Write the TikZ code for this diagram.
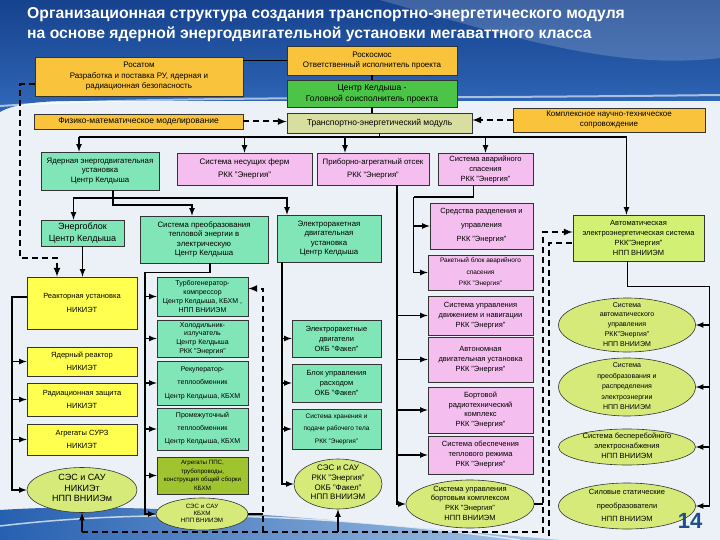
\documentclass[tikz,border=0pt]{standalone}
\usepackage{fontspec}
\setmainfont{Liberation Sans}
\usetikzlibrary{shapes.geometric}
\definecolor{cbg}{RGB}{236,241,248}
\definecolor{chead1}{RGB}{22,66,142}
\definecolor{chead2}{RGB}{48,104,184}
\definecolor{cbot1}{RGB}{38,96,176}
\definecolor{cbot2}{RGB}{170,200,232}
\definecolor{cgold}{RGB}{249,196,60}
\definecolor{cgreen}{RGB}{76,196,72}
\definecolor{ckhaki}{RGB}{216,222,160}
\definecolor{cmint}{RGB}{128,230,184}
\definecolor{cpink}{RGB}{244,190,238}
\definecolor{cyellow}{RGB}{255,255,80}
\definecolor{colive}{RGB}{160,196,48}
\definecolor{clime}{RGB}{214,234,122}
\definecolor{caes}{RGB}{210,240,116}
\definecolor{cnum}{RGB}{31,78,140}
\newcommand*{\ovtxt}[1]{\smash{\makebox[0pt]{\raisebox{-1.5pt}{\begin{tabular}{@{}c@{}}#1\end{tabular}}}}}

\begin{document}
\begin{tikzpicture}[x=1pt, y=-1pt]
    \tikzset{
        box/.style={draw=black!80, line width=0.6pt, align=center, inner sep=1pt, font=\fontsize{7.5}{9.5}\selectfont},
        sz/.style 2 args={minimum width=#1, minimum height=#2},
        fs/.style 2 args={font=\fontsize{#1}{#2}\selectfont},
        goldbox/.style={box, fill=cgold},
        greenbox/.style={box, fill=cgreen},
        khakibox/.style={box, fill=ckhaki},
        mintbox/.style={box, fill=cmint},
        pinkbox/.style={box, fill=cpink},
        yellowbox/.style={box, fill=cyellow},
        olivebox/.style={box, fill=colive},
        aesbox/.style={box, fill=caes},
        ell/.style={ellipse, draw=black!80, line width=0.6pt, fill=clime, inner sep=0pt, font=\fontsize{7.5}{9.5}\selectfont},
        link/.style={draw=black, line width=1.6pt},
        arr/.style={link, -latex},
        dlink/.style={draw=black, line width=2pt, dash pattern=on 6pt off 4pt},
        darr/.style={dlink, -latex}
    }
    \useasboundingbox (0,0) rectangle (720,540);
    % background and header
    \fill[cbg] (0,0) rectangle (720,540);
    \shade[top color=chead1, bottom color=chead2] (0,0) -- (720,0) -- (720,101) -- (70,101) .. controls (35,101) and (12,105) .. (0,112) -- cycle;
    \fill[white, opacity=0.18] (380,0) .. controls (520,40) and (620,70) .. (720,58) -- (720,0) -- cycle;
    \draw[white, opacity=0.6, line width=2pt] (0,106) .. controls (150,96) and (400,99) .. (720,95);
    \shade[left color=cbot1, right color=cbot2] (0,540) -- (0,510) .. controls (150,500) and (350,522) .. (560,540) -- cycle;
    \draw[white, opacity=0.7, line width=1.5pt] (0,526) .. controls (150,508) and (330,514) .. (520,540);
    \node[anchor=west, text=white, align=left, inner sep=0pt, font=\bfseries\fontsize{15.7}{20}\selectfont] (title) at (27,25)
        {Организационная структура создания транспортно-энергетического модуля\\на основе ядерной энергодвигательной установки мегаваттного класса};

    % top level
    \node[goldbox, sz={208}{39}, fs={8}{10.5}] (rosatom) at (139,76.5) {Росатом\\Разработка и поставка РУ, ядерная и\\радиационная безопасность};
    \node[goldbox, sz={170}{29}, fs={8}{10}] (roscosmos) at (372,60.5) {Роскосмос\\Ответственный исполнитель проекта};
    \node[greenbox, sz={170}{27}, fs={8.5}{11}] (keldysh) at (372,93.5) {Центр Келдыша -\\Головной соисполнитель проекта};
    \node[goldbox, sz={209}{15}, fs={8.5}{10}] (physmath) at (138.5,121.5) {Физико-математическое моделирование};
    \node[khakibox, sz={185}{20}, fs={8.5}{10}] (tem) at (379.5,123) {Транспортно-энергетический модуль};
    \node[goldbox, sz={192}{24}, fs={8}{10}] (kompl) at (609,120) {Комплексное научно-техническое\\сопровождение};

    % second row
    \node[mintbox, sz={118}{38}, fs={7.8}{9.5}] (yaedu) at (100,171) {Ядерная энергодвигательная\\установка\\Центр Келдыша};
    \node[pinkbox, sz={135}{32}, fs={8}{13}] (ferm) at (244.5,169) {Система несущих ферм\\РКК "Энергия"};
    \node[pinkbox, sz={112}{32}, fs={7.8}{13}] (pao) at (373,169) {Приборно-агрегатный отсек\\РКК "Энергия"};
    \node[pinkbox, sz={95}{32}, fs={7.5}{10}] (sas) at (485.5,169) {Система аварийного\\спасения\\РКК "Энергия"};

    % third row
    \node[mintbox, sz={83}{26}, fs={9}{12.5}] (energoblok) at (82.5,233) {Энергоблок\\Центр Келдыша};
    \node[mintbox, sz={128}{47}, fs={7.8}{9.5}] (spte) at (204,239.5) {Система преобразования\\тепловой энергии в\\электрическую\\Центр Келдыша};
    \node[mintbox, sz={104}{47}, fs={7.8}{9.5}] (erdu) at (329,238.5) {Электроракетная\\двигательная\\установка\\Центр Келдыша};
    \node[pinkbox, sz={103}{46}, fs={7.5}{14}] (sru) at (481.5,226) {Средства разделения и\\управления\\РКК "Энергия"};
    \node[aesbox, sz={131}{46}, fs={7.5}{10}] (aes) at (638.5,238) {Автоматическая\\электроэнергетическая система\\РКК"Энергия"\\НПП ВНИИЭМ};

    % reactor column
    \node[yellowbox, sz={110}{52}, fs={7.5}{14}] (ru) at (82,303) {Реакторная установка\\НИКИЭТ};
    \node[yellowbox, sz={110}{29}, fs={7.5}{12.5}] (yar) at (82,361.5) {Ядерный реактор\\НИКИЭТ};
    \node[yellowbox, sz={110}{33}, fs={7.5}{13}] (rz) at (82,399.5) {Радиационная защита\\НИКИЭТ};
    \node[yellowbox, sz={110}{31}, fs={7.5}{13}] (surz) at (82,439.5) {Агрегаты СУРЗ\\НИКИЭТ};
    \node[ell, sz={110}{45}, fs={9}{10.5}] (ses1) at (82,490) {\ovtxt{СЭС и САУ\\НИКИЭт\\НПП ВНИИЭм}};

    % conversion column
    \node[mintbox, sz={91}{39}, fs={7}{8.7}] (tgk) at (202.5,296.5) {Турбогенератор-\\компрессор\\Центр Келдыша, КБХМ ,\\НПП ВНИИЭМ};
    \node[mintbox, sz={91}{37}, fs={7}{8.7}] (hi) at (202.5,338.5) {Холодильник-\\излучатель\\Центр Келдыша\\РКК "Энергия"};
    \node[mintbox, sz={91}{44}, fs={7}{13.5}] (rek) at (202.5,383) {Рекуператор-\\теплообменник\\Центр Келдыша, КБХМ};
    \node[mintbox, sz={91}{42}, fs={7}{13}] (pt) at (202.5,429) {Промежуточный\\теплообменник\\Центр Келдыша, КБХМ};
    \node[olivebox, sz={91}{37}, fs={6.2}{8.5}] (pps) at (202.5,475.5) {Агрегаты ППС,\\трубопроводы,\\конструкция общей сборки\\КБХМ};
    \node[ell, sz={92}{32}, fs={6.2}{7}] (ses2) at (202,514) {\ovtxt{СЭС и САУ\\КБХМ\\НПП ВНИИЭМ}};

    % electric propulsion column
    \node[mintbox, sz={89}{37}, fs={7.5}{10}] (erd) at (336.5,338.5) {Электроракетные\\двигатели\\ОКБ "Факел"};
    \node[mintbox, sz={89}{38}, fs={7.5}{10}] (bur) at (336.5,383) {Блок управления\\расходом\\ОКБ "Факел"};
    \node[mintbox, sz={89}{40}, fs={6.5}{12.5}] (shp) at (336.5,429) {Система хранения и\\подачи рабочего тела\\РКК "Энергия"};
    \node[ell, sz={88}{50}, fs={8}{9.7}] (ses3) at (338,484) {\ovtxt{СЭС и САУ\\РКК "Энергия"\\ОКБ "Факел"\\НПП ВНИИЭМ}};

    % instrument bay column
    \node[pinkbox, sz={105}{35}, fs={6.5}{11.5}] (rbas) at (480.5,272.5) {Ракетный блок аварийного\\спасения\\РКК "Энергия"};
    \node[pinkbox, sz={105}{39}, fs={7.5}{10}] (sudn) at (480.5,315.5) {Система управления\\движением и навигации\\РКК "Энергия"};
    \node[pinkbox, sz={105}{45}, fs={7.5}{10}] (adu) at (480.5,359.5) {Автономная\\двигательная установка\\РКК "Энергия"};
    \node[pinkbox, sz={105}{46}, fs={7.5}{9.5}] (brtk) at (480.5,410) {Бортовой\\радиотехнический\\комплекс\\РКК "Энергия"};
    \node[pinkbox, sz={105}{38}, fs={7.5}{10}] (sotr) at (480.5,455) {Система обеспечения\\теплового режима\\РКК "Энергия"};
    \node[ell, sz={128}{48}, fs={7.5}{9.7}] (subk) at (470,504) {\ovtxt{Система управления\\бортовым комплексом\\РКК "Энергия"\\НПП ВНИИЭМ}};

    % power column
    \node[ell, sz={137}{54}, fs={7}{9.8}] (sau) at (627,325) {\ovtxt{Система\\автоматического\\управления\\РКК"Энергия"\\НПП ВНИИЭМ}};
    \node[ell, sz={137}{58}, fs={7}{10.5}] (spre) at (627,387) {\ovtxt{Система\\преобразования и\\распределения\\электроэнергии\\НПП ВНИИЭМ}};
    \node[ell, sz={137}{36}, fs={7.5}{9.7}] (sbe) at (627,447) {\ovtxt{Система бесперебойного\\электроснабжения\\НПП ВНИИЭМ}};
    \node[ell, sz={137}{46}, fs={7.5}{13.5}] (sst) at (627,506) {\ovtxt{Силовые статические\\преобразователи\\НПП ВНИИЭМ}};

    \node[text=cnum, inner sep=0pt, font=\bfseries\fontsize{22}{22}\selectfont] (pagenum) at (690,521) {14};

    % top links
    \draw[link] (rosatom.east |- roscosmos.west) -- (roscosmos.west);
    \draw[link] (roscosmos.south) -- (keldysh.north);
    \draw[link] (keldysh.south) -- (keldysh.south |- tem.north);
    \draw[darr] (physmath.east) -- (tem.west |- physmath.east);
    \draw[darr] (kompl.west) -- (tem.east |- kompl.west);

    % bus under the module
    \draw[link] (tem.south) -- ++(0,4) coordinate (bus);
    \draw[link] ([xshift=-21pt]yaedu.north |- bus) -- ([xshift=-12pt]aes.north |- bus);
    \draw[arr] ([xshift=-21pt]yaedu.north |- bus) -- ([xshift=-21pt]yaedu.north);
    \draw[arr] (ferm.north |- bus) -- (ferm.north);
    \draw[arr] ([xshift=-28pt]pao.north |- bus) -- ([xshift=-28pt]pao.north);
    \draw[arr] (sas.north |- bus) -- (sas.north);
    \draw[arr] ([xshift=-12pt]aes.north |- bus) -- ([xshift=-12pt]aes.north);

    % nuclear propulsion unit
    \draw[link] ([xshift=13pt]yaedu.south) -- ++(0,8) coordinate (j1);
    \draw[arr] (j1) -| ([xshift=-9pt]energoblok.north);
    \draw[arr] (j1) -| ([xshift=-42pt]erdu.north);
    \draw[arr] (j1) -- ++(0,7) -| ([xshift=-12pt]spte.north);
    \draw[arr] (energoblok.south) -- (energoblok.south |- ru.north);
    \coordinate (dl) at (20,258);
    \draw[darr] ([yshift=-8pt]rosatom.west) -| (dl) -| ([xshift=-25pt]ru.north);

    % reactor
    \draw[arr] ([yshift=6pt]ru.west) -- ++(-15,0) coordinate (lc) |- (ses1.west);
    \draw[arr] (lc |- yar.west) -- (yar.west);
    \draw[arr] (lc |- rz.west) -- (rz.west);
    \draw[arr] (lc |- surz.west) -- (surz.west);

    % conversion system
    \draw[arr] ([xshift=6pt]spte.south) |- ++(-65,9) coordinate (mc) |- (ses2.west);
    \draw[arr] (mc |- tgk.west) -- (tgk.west);
    \draw[arr] (mc |- hi.west) -- (hi.west);
    \draw[arr] (mc |- rek.west) -- (rek.west);
    \draw[arr] (mc |- pt.west) -- (pt.west);
    \draw[arr] (mc |- pps.west) -- (pps.west);

    % electric propulsion
    \draw[arr] ([xshift=-47pt]erdu.south) coordinate (ec) |- (ses3.west);
    \draw[arr] (ec |- erd.west) -- (erd.west);
    \draw[arr] (ec |- bur.west) -- (bur.west);
    \draw[arr] (ec |- shp.west) -- (shp.west);

    % instrument bay
    \draw[arr] ([xshift=24pt]pao.south) coordinate (pc) |- (subk.west);
    \draw[arr] (pc |- sudn.west) -- (sudn.west);
    \draw[arr] (pc |- adu.west) -- (adu.west);
    \draw[arr] (pc |- brtk.west) -- (brtk.west);
    \draw[arr] (pc |- sotr.west) -- (sotr.west);

    % emergency rescue
    \draw[link] ([xshift=-12pt]sas.south) |- ++(-60,12) coordinate (sc);
    \draw[arr] (sc) |- (rbas.west);
    \draw[arr] (sc |- sru.west) -- (sru.west);

    % power system
    \draw[link] ([xshift=-11pt]aes.south) |- ++(82,25) coordinate (rc);
    \draw[arr] (rc) |- (sst.east);
    \draw[arr] (rc |- sau.east) -- (sau.east);
    \draw[arr] (rc |- spre.east) -- (spre.east);
    \draw[arr] (rc |- sbe.east) -- (sbe.east);

    % dashed power links
    \coordinate (dv) at (543,532);
    \coordinate (dm) at (263,532);
    \coordinate (de) at (549,536);
    \draw[darr] (ses1.south |- dv) -- (dv) |- ([yshift=6pt]aes.west);
    \draw[dlink] (de) |- ([yshift=-5pt]aes.west);
    \draw[darr] (dm) |- ([yshift=8pt]tgk.east);
    \draw[arr] (ses1.south |- dv) -- (ses1.south);
    \draw[arr] (ses3.south |- dv) -- (ses3.south);
    \draw[link] (ses2.east) -- (dm |- ses2.east);
    \draw[link] (subk.east) -- (dv |- subk.east);
\end{tikzpicture}
\end{document}
